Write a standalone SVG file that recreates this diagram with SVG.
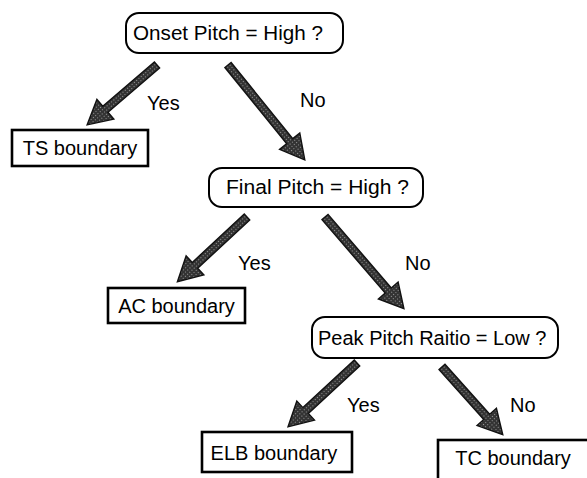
<svg xmlns="http://www.w3.org/2000/svg" width="587" height="478" viewBox="0 0 587 478">
<style>
text{font-family:"Liberation Sans",Arial,sans-serif;font-size:20px;fill:#000}
.q{fill:#fff;stroke:#000;stroke-width:2}
.leaf{fill:#fff;stroke:#000;stroke-width:2.6}
.arr{fill:url(#ht);stroke:#111;stroke-width:1.4;stroke-linejoin:miter}
</style>
<defs>
<pattern id="ht" width="3" height="3" patternUnits="userSpaceOnUse">
<rect width="3" height="3" fill="#333"/>
<rect x="1" y="1" width="1" height="1" fill="#999"/>
</pattern>
</defs>
<rect width="587" height="478" fill="#fff"/>
<g id="connectors">
<polygon class="arr" transform="translate(157,65) rotate(139.4)" points="0,-4 68,-4 68,-13 92,0 68,13 68,4 0,4"/>
<polygon class="arr" transform="translate(228,65) rotate(51)" points="0,-4 98,-4 98,-13 122,0 98,13 98,4 0,4"/>
<polygon class="arr" transform="translate(247,217) rotate(137.1)" points="0,-4 71,-4 71,-13 95,0 71,13 71,4 0,4"/>
<polygon class="arr" transform="translate(325,217) rotate(49.3)" points="0,-4 97,-4 97,-13 121,0 97,13 97,4 0,4"/>
<polygon class="arr" transform="translate(357,363) rotate(137.2)" points="0,-4 70,-4 70,-13 94,0 70,13 70,4 0,4"/>
<polygon class="arr" transform="translate(442,367) rotate(48.1)" points="0,-4 67,-4 67,-13 91,0 67,13 67,4 0,4"/>
<text x="147" y="110">Yes</text>
<text x="300" y="107">No</text>
<text x="238" y="270">Yes</text>
<text x="405" y="270">No</text>
<text x="347" y="412">Yes</text>
<text x="510" y="412">No</text>
</g>
<g id="onset">
<rect class="q" x="126" y="13" width="217" height="40" rx="13"/>
<text x="133" y="40" textLength="190" lengthAdjust="spacingAndGlyphs">Onset Pitch = High ?</text>
</g>
<g id="ts">
<rect class="leaf" x="12" y="130" width="136" height="36"/>
<text x="80" y="155" text-anchor="middle">TS boundary</text>
</g>
<g id="final">
<rect class="q" x="209" y="168" width="214" height="39" rx="13"/>
<text x="226" y="194" textLength="183" lengthAdjust="spacingAndGlyphs">Final Pitch = High ?</text>
</g>
<g id="ac">
<rect class="leaf" x="108" y="288" width="137" height="35"/>
<text x="176.5" y="313" text-anchor="middle">AC boundary</text>
</g>
<g id="peak">
<rect class="q" x="312" y="317" width="246" height="41" rx="13"/>
<text x="318" y="345">Peak Pitch Raitio = Low ?</text>
</g>
<g id="elb">
<rect class="leaf" x="202" y="432" width="150" height="40"/>
<text x="274" y="460" text-anchor="middle">ELB boundary</text>
</g>
<g id="tc">
<rect class="leaf" x="438" y="440" width="170" height="60"/>
<text x="513" y="465" text-anchor="middle">TC boundary</text>
</g>
</svg>
